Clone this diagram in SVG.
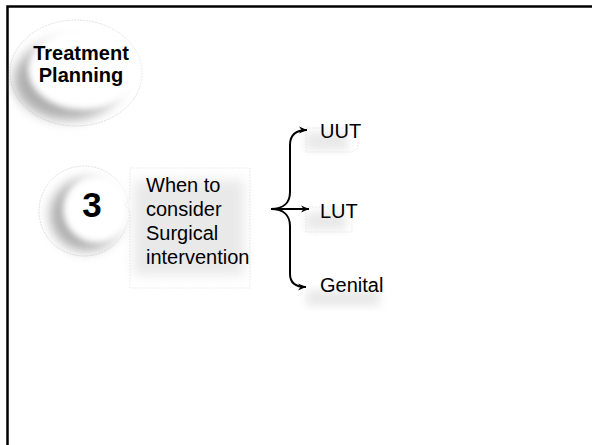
<svg xmlns="http://www.w3.org/2000/svg" width="592" height="445" viewBox="0 0 592 445">
<style>
.t{font-family:"Liberation Sans",Arial,sans-serif;fill:#000}
.lbl{font-size:20px}
.b{font-weight:bold}
.faint{fill:none;stroke:#dedede;stroke-width:0.7;stroke-dasharray:1.5 1.5}
.conn{fill:none;stroke:#000;stroke-width:2}
.sh{fill:#cfcfcf;opacity:0.45}
</style>
<defs>
<filter id="blur6" x="-30%" y="-30%" width="160%" height="160%"><feGaussianBlur stdDeviation="6"/></filter>
<filter id="blur3" x="-30%" y="-30%" width="160%" height="160%"><feGaussianBlur stdDeviation="3"/></filter>
<filter id="blur4" x="-30%" y="-30%" width="160%" height="160%"><feGaussianBlur stdDeviation="4"/></filter>
<marker id="arr" markerWidth="9" markerHeight="8" refX="8" refY="4" orient="auto" markerUnits="userSpaceOnUse">
<path d="M0,0.5 L8,4 L0,7.5 L2.5,4 Z" fill="#000"/>
</marker>
</defs>
<rect width="592" height="445" fill="#fff"/>
<path d="M7.5,445 V6.5 H592" fill="none" stroke="#000" stroke-width="2.5"/>

<g id="treatment-planning">
<ellipse cx="76" cy="73" rx="66" ry="53" fill="#fff" stroke="#d4d4d4" stroke-width="0.7" stroke-dasharray="2 1"/>
<ellipse cx="68" cy="80" rx="54" ry="40" fill="#8c8c8c" opacity="0.7" filter="url(#blur6)"/>
<ellipse cx="84" cy="69" rx="56" ry="41" fill="#fff" filter="url(#blur3)"/>
<text class="t b lbl" x="81" y="60" text-anchor="middle">Treatment</text>
<text class="t b lbl" x="81" y="82" text-anchor="middle">Planning</text>
</g>

<g id="step-3">
<circle cx="84" cy="211" r="45" fill="#fff" stroke="#d4d4d4" stroke-width="0.7" stroke-dasharray="2 1"/>
<circle cx="86" cy="215" r="36" fill="#8c8c8c" opacity="0.7" filter="url(#blur6)"/>
<circle cx="97" cy="209" r="34" fill="#fff" filter="url(#blur3)"/>
<text class="t b" x="92" y="217" font-size="35" text-anchor="middle">3</text>
</g>

<g id="question">
<path class="faint" d="M130,168 H250 V288 H130 V212 L125,205 L130,198 Z"/>
<rect class="sh" x="134" y="180" width="110" height="95" filter="url(#blur6)"/>
<text class="t lbl" x="146" y="192">When to</text>
<text class="t lbl" x="146" y="216">consider</text>
<text class="t lbl" x="146" y="240">Surgical</text>
<text class="t lbl" x="146" y="264">intervention</text>
</g>

<g id="uut">
<path class="faint" d="M306,128 H358 V148 L352,152 H306 Z"/>
<rect class="sh" x="306" y="132" width="42" height="18" filter="url(#blur4)"/>
<text class="t lbl" x="320" y="138">UUT</text>
</g>

<g id="lut">
<path class="faint" d="M306,207 H352 V232 H306 Z"/>
<rect class="sh" x="306" y="212" width="40" height="18" filter="url(#blur4)"/>
<text class="t lbl" x="320" y="218">LUT</text>
</g>

<g id="genital">
<rect class="sh" x="306" y="290" width="74" height="16" filter="url(#blur4)"/>
<text class="t lbl" x="320" y="292">Genital</text>
</g>

<g id="connectors">
<path class="conn" d="M271,209 C283,209 290,203 290,192 V145 C290,135 295,130 307,130" marker-end="url(#arr)"/>
<path class="conn" d="M271,209 H309" marker-end="url(#arr)"/>
<path class="conn" d="M271,209 C283,209 290,215 290,226 V274 C290,282 295,287 306,287" marker-end="url(#arr)"/>
</g>
</svg>
